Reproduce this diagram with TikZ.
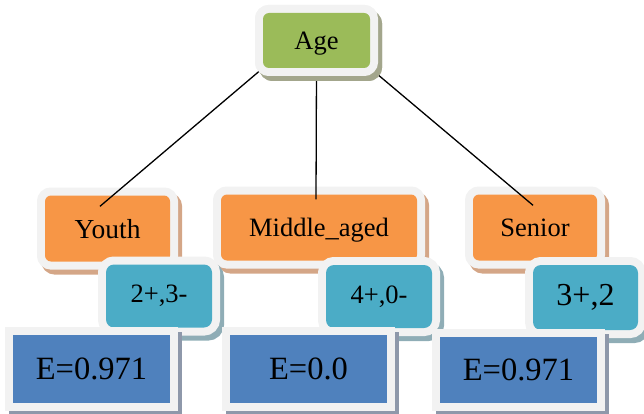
\documentclass[tikz,border=0pt]{standalone}
\usepackage{fontspec}
\setmainfont{Liberation Serif}
\usetikzlibrary{calc}
\definecolor{agegreen}{HTML}{9BBB59}
\definecolor{agorange}{HTML}{F79646}
\definecolor{agteal}{HTML}{4BACC6}
\definecolor{agblue}{HTML}{4F81BD}
\definecolor{framec}{HTML}{F2F2F2}
\definecolor{shgreen}{HTML}{A3A68C}
\definecolor{shorange}{HTML}{D4A687}
\definecolor{shteal}{HTML}{8FADB6}
\definecolor{shblue}{HTML}{8E98AA}
\tikzset{
  framed/.style 2 args={fill=#1, draw=none, inner sep=0pt, text=black,
    preaction={draw=#2, fill=#2, line width=16pt, transform canvas={shift={(4pt,-5pt)}}},
    preaction={draw=framec, line width=16pt}},
  agebox/.style={framed={agegreen}{shgreen}, rounded corners=6pt, text depth=0pt},
  valbox/.style={framed={agorange}{shorange}, rounded corners=6pt, minimum height=66pt, text depth=0pt},
  cntbox/.style={framed={agteal}{shteal}, rounded corners=8pt, minimum width=106pt, minimum height=63pt},
  entbox/.style={framed={agblue}{shblue}, minimum width=157pt, minimum height=68pt, font=\fontsize{32.5}{36}\selectfont},
  conn/.style={draw=black, line width=1.3pt},
}
\begin{document}
\begin{tikzpicture}[x=1pt,y=-1pt]
\useasboundingbox (0,0) rectangle (644,414);
% attribute values
\node[valbox, minimum width=125pt, font=\fontsize{27.5}{30}\selectfont] (youth) at (107.5,228.5) {Youth};
\node[valbox, minimum width=196pt, font=\fontsize{26.5}{30}\selectfont] (middle) at (319,227.5) {Middle\_aged};
\node[valbox, minimum width=124pt, font=\fontsize{26.5}{30}\selectfont] (senior) at (535,227.5) {Senior};
% counts
\node[cntbox, font=\fontsize{26.5}{30}\selectfont] (c1) at (159,296) {2+,3-};
\node[cntbox, font=\fontsize{26.5}{30}\selectfont] (c2) at (379,296.5) {4+,0-};
\node[cntbox, minimum width=105pt, minimum height=65pt, font=\fontsize{32}{36}\selectfont] (c3) at (585.5,297.5) {3+,2};
% entropies
\node[entbox] (e1) at (91.5,369) {E=0.971};
\node[entbox] (e2) at (308.5,369) {E=0.0};
\node[entbox, minimum height=66pt] (e3) at (518.5,370) {E=0.971};
% root placement and connectors
\coordinate (agepos) at (316.5,40.5);
\coordinate (y1) at ($(youth.north)+(-7.5,11)$);
\coordinate (m1) at ($(middle.north)+(-3,5)$);
\coordinate (s1) at ($(senior.north)+(-2,11)$);
\path (agepos) node[agebox, minimum width=107pt, minimum height=55pt, font=\fontsize{26.5}{30}\selectfont] (age0) {\phantom{Age}};
\draw[conn] (age0.south west) -- (y1);
\draw[conn] (age0.south) -- (m1);
\draw[conn] (age0.south east) -- (s1);
\node[agebox, minimum width=107pt, minimum height=55pt, font=\fontsize{26.5}{30}\selectfont] (age) at (agepos) {Age};
\end{tikzpicture}
\end{document}
